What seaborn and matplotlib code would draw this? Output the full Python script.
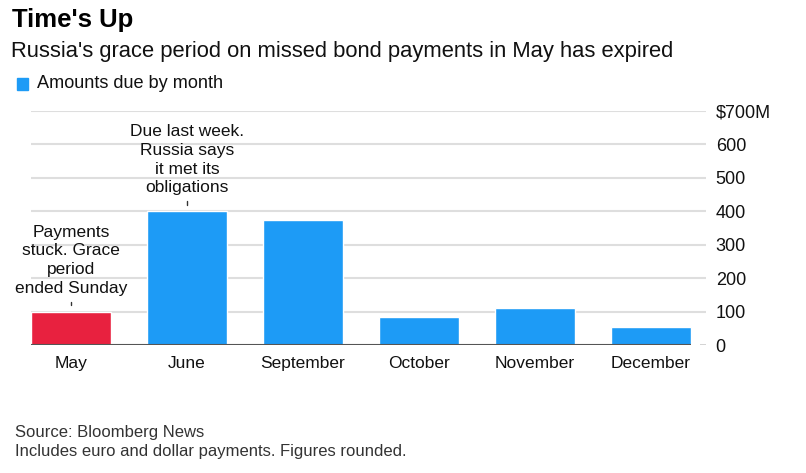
import matplotlib
matplotlib.use("Agg")
import matplotlib.pyplot as plt
import pandas as pd
import seaborn as sns

# data
months = ["May", "June", "September", "October", "November", "December"]
amounts = [100, 400, 375, 85, 110, 55]
bar_colors = ["#E8213F", "#1D9BF6", "#1D9BF6", "#1D9BF6", "#1D9BF6", "#1D9BF6"]
y_ticks = [0, 100, 200, 300, 400, 500, 600, 700]
y_tick_labels = ["0", "100", "200", "300", "400", "500", "600", "$700M"]
notes = {
    "May": "Payments\nstuck. Grace\nperiod\nended Sunday",
    "June": "Due last week.\nRussia says\nit met its\nobligations",
}

df = pd.DataFrame({"month": months, "amount": amounts})

sns.set_theme(style="white")
plt.rcParams["font.family"] = ["Liberation Sans", "DejaVu Sans"]

fig = plt.figure(figsize=(8.06, 4.73), dpi=100)
ax = fig.add_axes([31 / 806, 1 - 345 / 473, 675 / 806, 234 / 473])

bar_w = 0.69
sns.barplot(data=df, x="month", y="amount", hue="month",
            palette=dict(zip(months, bar_colors)), width=bar_w,
            legend=False, ax=ax, zorder=3, saturation=1)

left = -bar_w / 2
ax.set_xlim(left, 5.474)
ax.set_ylim(0, 700)

# gridlines
for t in y_ticks[1:]:
    ax.axhline(t, color="#dedede", lw=1.5, zorder=1)
ax.hlines(0, left, len(months) - 1 + bar_w / 2, color="#555555", lw=1.5, zorder=4)
ax.hlines(0, 5.42, 5.474, color="#cccccc", lw=1.2, zorder=1)

for s in ax.spines.values():
    s.set_visible(False)

ax.yaxis.tick_right()
ax.set_yticks(y_ticks)
ax.set_yticklabels(y_tick_labels)
ax.tick_params(axis="y", length=0, pad=7, labelsize=13, labelcolor="#111111")
ax.tick_params(axis="x", length=0, pad=8, labelsize=12.5, labelcolor="#111111")
ax.set_xlabel("")
ax.set_ylabel("")

# annotations above May and June
for i, m in enumerate(months):
    if m in notes:
        v = amounts[i]
        ax.plot([i, i], [v + 20, v + 30], color="#333333", lw=1, zorder=5)
        ax.text(i, v + 48, notes[m], ha="center", va="bottom", fontsize=12.5,
                color="#111111", linespacing=1.3, zorder=5)

# titles, legend, footer
fig.text(12 / 806, 1 - 20 / 473, "Time's Up", fontsize=18.5, fontweight="bold",
         va="center", ha="left", color="#000000")
fig.text(11 / 806, 1 - 51 / 473, "Russia's grace period on missed bond payments in May has expired",
         fontsize=15.8, va="center", ha="left", color="#111111")
fig.patches.append(plt.Rectangle((17 / 806, 1 - 90 / 473), 11 / 806, 12 / 473,
                                 transform=fig.transFigure, color="#1D9BF6"))
fig.text(37 / 806, 1 - 84 / 473, "Amounts due by month", fontsize=13.1,
         va="center", ha="left", color="#111111")
fig.text(15 / 806, 1 - 432 / 473, "Source: Bloomberg News", fontsize=12,
         va="center", ha="left", color="#333333")
fig.text(15 / 806, 1 - 451 / 473, "Includes euro and dollar payments. Figures rounded.",
         fontsize=12, va="center", ha="left", color="#333333")

fig.savefig("out.png", dpi=100)
